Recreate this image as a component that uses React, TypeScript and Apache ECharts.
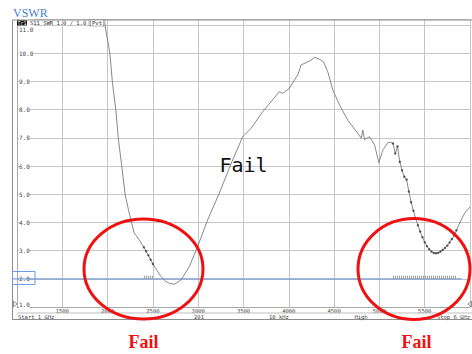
import React, { useEffect, useRef } from "react";
import * as echarts from "echarts";

// Measured trace: frequency (MHz) and VSWR
const traceFreq = [
  1960, 2025, 2054, 2091, 2120, 2157, 2194, 2238, 2293, 2350,
  2400, 2425, 2450, 2475, 2500, 2545, 2589, 2640, 2680, 2736,
  2810, 2901, 2993, 3104, 3233, 3380, 3491, 3583, 3712, 3896,
  3933, 4007, 4062, 4099, 4136, 4191, 4247, 4283, 4339, 4383,
  4430, 4486, 4560, 4651, 4762, 4800, 4817, 4836, 4891, 4947,
  4994, 5038, 5094, 5125,
  5150, 5175, 5200, 5225, 5250, 5275, 5300, 5325, 5350, 5375,
  5400, 5425, 5450, 5475, 5500, 5525, 5550, 5575, 5600, 5625,
  5650, 5675, 5700, 5725, 5750, 5775, 5800, 5825, 5850,
  5900, 5941, 5978, 6000,
];
const traceVswr = [
  11.2, 10.0, 8.94, 7.99, 6.93, 5.98, 4.98, 4.34, 3.63, 3.38,
  3.12, 2.98, 2.84, 2.68, 2.53, 2.3, 2.08, 1.92, 1.84, 1.81,
  1.96, 2.43, 3.14, 4.09, 5.04, 6.22, 7.04, 7.34, 7.93, 8.64,
  8.58, 8.76, 9.05, 9.23, 9.59, 9.67, 9.76, 9.86, 9.79, 9.7,
  9.35, 8.7, 8.17, 7.63, 7.16, 6.99, 7.28, 6.94, 7.04, 6.75,
  6.12, 6.57, 6.83, 6.85,
  6.8, 6.45, 6.7, 6.15, 5.85, 5.62, 5.52, 5.1, 4.72, 4.42,
  4.15, 3.9, 3.68, 3.48, 3.3, 3.16, 3.05, 2.97, 2.92, 2.91,
  2.93, 2.97, 3.03, 3.1, 3.18, 3.29, 3.41, 3.55, 3.72,
  4.08, 4.33, 4.47, 4.55,
];

// Limit test segments (MHz) and limit value
const limitRanges: [number, number][] = [
  [2400, 2500],
  [5150, 5850],
];
const limitValue = 2.0;
const limitLineFreq = [1000, 5910];

// Axes
const xMin = 1000;
const xMax = 6000;
const xStep = 500;
const yMin = 1;
const yMax = 11.2;
const yStep = 1;

// Footer texts
const footerTexts = ["Start 1 GHz", "201", "10 kHz", "High", "Stop 6 GHz"];

const mono = "DejaVu Sans Mono";

export default function App() {
  const ref = useRef<HTMLDivElement>(null);
  useEffect(() => {
    if (!ref.current) return;
    const chart = echarts.init(ref.current, undefined, { renderer: "svg" });
    const trace = traceFreq.map((f, i) => [f, traceVswr[i]]);
    const failPts = trace.filter(([f]) =>
      limitRanges.some(([a, b]) => f >= a && f <= b)
    );
    const tickSeries = limitRanges.map(([a, b]) => ({
      type: "line",
      data: [
        [a, limitValue + 0.06],
        [b, limitValue + 0.06],
      ],
      symbol: "none",
      silent: true,
      lineStyle: { color: "#9a9a9a", width: 3, type: [1, 1] },
      z: 3,
    }));
    const gray = "#a8a8a8";
    const footerFont = `5.5px "${mono}"`;
    const option: any = {
      animation: false,
      backgroundColor: "#ffffff",
      grid: { left: 17, right: 2, top: 19.5, bottom: 46.9 },
      xAxis: {
        type: "value",
        min: xMin,
        max: xMax,
        interval: xStep,
        axisLine: { show: true, lineStyle: { color: gray, width: 1 } },
        axisTick: { show: false },
        splitLine: { show: true, lineStyle: { color: "#c6c6c6", width: 1 } },
        axisLabel: {
          fontSize: 5.5,
          lineHeight: 5.5,
          fontFamily: mono,
          color: "#444",
          margin: 1,
          showMinLabel: false,
          showMaxLabel: false,
          formatter: (v: number) => String(v),
        },
      },
      yAxis: {
        type: "value",
        min: yMin,
        max: yMax,
        interval: yStep,
        axisLine: { show: true, lineStyle: { color: gray, width: 1 } },
        axisTick: { show: false },
        splitLine: { show: true, lineStyle: { color: "#c6c6c6", width: 1 } },
        axisLabel: {
          inside: true,
          margin: 2,
          fontSize: 6,
          fontFamily: mono,
          color: "#444",
          backgroundColor: "#ffffff",
          showMaxLabel: false,
          formatter: (v: number) => {
            const s = v.toFixed(1);
            if (v === 11) return `{t|${s}}`;
            if (v === 1) return `{b|${s}}`;
            return s;
          },
          rich: {
            t: { fontSize: 6, fontFamily: mono, color: "#444", padding: [8, 0, 0, 0] },
            b: { fontSize: 6, fontFamily: mono, color: "#444", padding: [0, 0, 6, 0] },
          },
        },
      },
      series: [
        {
          type: "line",
          data: limitLineFreq.map((f) => [f, limitValue]),
          symbol: "none",
          silent: true,
          lineStyle: { color: "#5b8ad6", width: 1 },
          z: 2,
        },
        ...tickSeries,
        {
          type: "line",
          data: trace,
          symbol: "none",
          clip: true,
          lineStyle: { color: "#7a7a7a", width: 0.9 },
          z: 4,
        },
        {
          type: "scatter",
          data: failPts,
          symbol: "circle",
          symbolSize: 2.4,
          itemStyle: { color: "#333" },
          z: 5,
        },
      ],
      graphic: [
        // outer frame
        { type: "line", shape: { x1: 12, y1: 20, x2: 472, y2: 20 }, style: { stroke: "#8c8c8c", lineWidth: 1 }, z: 10 },
        { type: "line", shape: { x1: 12.5, y1: 20, x2: 12.5, y2: 319.5 }, style: { stroke: "#8c8c8c", lineWidth: 1 }, z: 10 },
        { type: "line", shape: { x1: 12, y1: 319.5, x2: 472, y2: 319.5 }, style: { stroke: "#8c8c8c", lineWidth: 1 }, z: 10 },
        { type: "line", shape: { x1: 17, y1: 313, x2: 472, y2: 313 }, style: { stroke: "#bdbdbd", lineWidth: 1 }, z: 10 },
        // reference triangles
        { type: "polygon", shape: { points: [[13.5, 301], [17, 304], [13.5, 307]] }, style: { stroke: "#777", fill: "none", lineWidth: 0.8 }, z: 10 },
        { type: "polygon", shape: { points: [[471.5, 301], [468, 304], [471.5, 307]] }, style: { stroke: "#777", fill: "none", lineWidth: 0.8 }, z: 10 },
        // header
        { type: "rect", shape: { x: 17, y: 20.5, width: 10, height: 5 }, style: { fill: "#111" }, z: 10 },
        { type: "text", x: 22, y: 23.2, style: { text: "Tr1", fill: "#fff", font: `5px "${mono}"`, align: "center", verticalAlign: "middle" }, z: 11 },
        { type: "text", x: 30, y: 23.2, style: { text: "S11 SWR 1.0 / 1.0", fill: "#333", font: `5.5px "${mono}"`, verticalAlign: "middle" }, z: 11 },
        { type: "rect", shape: { x: 89, y: 20, width: 16, height: 6 }, style: { fill: "#fff", stroke: "#888", lineWidth: 0.6 }, z: 10 },
        { type: "text", x: 97, y: 23.2, style: { text: "[Pvt]", fill: "#333", font: `5.5px "${mono}"`, align: "center", verticalAlign: "middle" }, z: 11 },
        // limit label box
        { type: "rect", shape: { x: 12.5, y: 271.5, width: 22.5, height: 13 }, style: { fill: "none", stroke: "#6f9be0", lineWidth: 1 }, z: 10 },
        { type: "line", shape: { x1: 12.5, y1: 278.9, x2: 17, y2: 278.9 }, style: { stroke: "#5b8ad6", lineWidth: 1 }, z: 10 },
        // footer
        { type: "text", x: 18, y: 316.5, style: { text: footerTexts[0], fill: "#444", font: footerFont, verticalAlign: "middle" }, z: 11 },
        { type: "text", x: 199, y: 316.5, style: { text: footerTexts[1], fill: "#444", font: footerFont, align: "center", verticalAlign: "middle" }, z: 11 },
        { type: "text", x: 279, y: 316.5, style: { text: footerTexts[2], fill: "#444", font: footerFont, align: "center", verticalAlign: "middle" }, z: 11 },
        { type: "text", x: 361, y: 316.5, style: { text: footerTexts[3], fill: "#444", font: footerFont, align: "center", verticalAlign: "middle" }, z: 11 },
        { type: "text", x: 470, y: 316.5, style: { text: footerTexts[4], fill: "#444", font: footerFont, align: "right", verticalAlign: "middle" }, z: 11 },
        // title
        { type: "text", x: 13, y: 12.5, style: { text: "VSWR", fill: "#4a82cc", font: `12px "Liberation Serif"`, verticalAlign: "middle" }, z: 11 },
        // center annotation
        { type: "text", x: 243.5, y: 165, style: { text: "Fail", fill: "#111", font: `20px "${mono}"`, align: "center", verticalAlign: "middle" }, z: 11 },
        // red ellipses
        { type: "ellipse", shape: { cx: 143.5, cy: 269, rx: 59.5, ry: 50 }, style: { fill: "none", stroke: "#ee1111", lineWidth: 3 }, z: 12 },
        { type: "ellipse", shape: { cx: 414, cy: 269, rx: 56, ry: 50.5 }, style: { fill: "none", stroke: "#ee1111", lineWidth: 3 }, z: 12 },
        // bottom labels
        { type: "text", x: 143.5, y: 341.5, style: { text: "Fail", fill: "#ee1111", font: `bold 18px "Liberation Serif"`, align: "center", verticalAlign: "middle" }, z: 12 },
        { type: "text", x: 416.5, y: 341.5, style: { text: "Fail", fill: "#ee1111", font: `bold 18px "Liberation Serif"`, align: "center", verticalAlign: "middle" }, z: 12 },
      ],
    };
    chart.setOption(option);
    return () => chart.dispose();
  }, []);
  return (
    <div
      ref={ref}
      style={{ position: "absolute", left: 0, top: 0, width: 472, height: 354 }}
    />
  );
}
